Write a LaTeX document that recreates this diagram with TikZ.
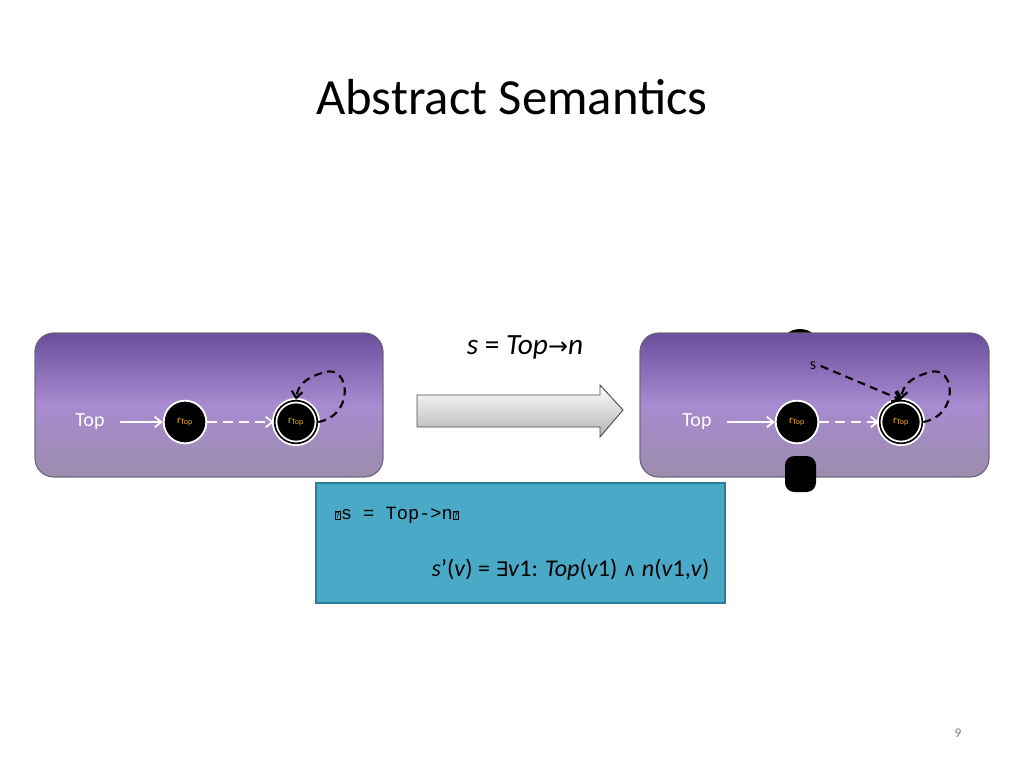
\documentclass[tikz,border=0pt]{standalone}
\usepackage{fontspec}
\setmainfont{Carlito}
\setmonofont{Liberation Mono}
\newfontfamily\djv{DejaVu Sans}
\usetikzlibrary{arrows.meta,shapes.geometric}
\definecolor{pdark}{HTML}{6A4E9C}
\definecolor{pmid}{HTML}{A88BD0}
\definecolor{pbot}{HTML}{9C8CAC}
\definecolor{bluebox}{HTML}{4AA9C6}
\definecolor{blueedge}{HTML}{2C7E98}
\definecolor{rtop}{HTML}{F0B020}
\tikzset{
  panel/.style={rounded corners=14pt, draw=pbot!70!black, line width=0.6pt},
  obj/.style={circle, fill=black, draw=white, line width=1.4pt, minimum size=32pt, inner sep=0pt, font=\fontsize{8}{9}\selectfont, text=rtop},
  sumobj/.style={obj, double=black, double distance=1.2pt},
  lbl/.style={text=white, font=\fontsize{15}{17}\selectfont},
  wedge/.style={white, line width=1.3pt, -{Straight Barb[length=5pt,width=8pt]}},
  bedge/.style={black, line width=1.6pt, dash pattern=on 6pt off 4pt, -{Straight Barb[length=5pt,width=8pt]}},
  qbox/.style={draw, inner sep=0.5pt, font=\djv\fontsize{6}{6}\selectfont}
}
\begin{document}
\begin{tikzpicture}[x=0.75pt,y=-0.75pt]
\useasboundingbox (0,0) rectangle (1024,768);
\fill[white] (0,0) rectangle (1024,768);
\node (title) at (512,97) {\fontsize{38}{44}\selectfont Abstract Semantics};
% left panel
\shade[panel, top color=pdark, bottom color=pbot, middle color=pmid] (35,333) rectangle (383,477);
\draw[panel] (35,333) rectangle (383,477);
\node[lbl] (lt) at (90,422) {Top};
\node[obj] (l1) at (185,422) {r\textsubscript{Top}};
\node[sumobj] (l2) at (296,422) {r\textsubscript{Top}};
\draw[wedge] (lt.east)++(8pt,0) coordinate (lts) -- (l1);
\draw[wedge, dashed, dash pattern=on 7pt off 5pt] (l1) -- (l2);
\draw[bedge] (l2.east) .. controls (355,415) and (350,365) .. (325,372) .. controls (305,378) and (298,385) .. (l2.north);
% right panel
\fill[black] (800,345) ellipse (14pt and 12pt);
\shade[panel, top color=pdark, bottom color=pbot, middle color=pmid] (640,333) rectangle (989,477);
\draw[panel] (640,333) rectangle (989,477);
\fill[black, rounded corners=7pt] (785,456) rectangle (816,492);
\node[lbl] (rt) at (697,422) {Top};
\node[obj] (r1) at (797,422) {r\textsubscript{Top}};
\node[sumobj] (r2) at (901,422) {r\textsubscript{Top}};
\node[text=black, font=\fontsize{12}{14}\selectfont] (s) at (813,366) {s};
\draw[wedge] (rt.east)++(8pt,0) -- (r1);
\draw[wedge, dashed, dash pattern=on 7pt off 5pt] (r1) -- (r2);
\draw[bedge] (r2.east) .. controls (960,415) and (955,365) .. (930,372) .. controls (910,378) and (903,385) .. (r2.north);
\draw[bedge] (s.east) -- (r2.north);
% big arrow
\shade[top color=white, bottom color=gray!60, draw=gray!60!black, line width=0.7pt]
  (417,395) -- (600,395) -- (600,385) -- (623,410) -- (600,437) -- (600,427) -- (417,427) -- cycle;
\node (op) at (525,347) {\fontsize{22}{26}\selectfont \textit{s} = \textit{Top}{\djv\fontsize{18}{20}\selectfont →}\textit{n}};
% blue box
\node[draw=blueedge, fill=bluebox, line width=1.2pt, minimum width=307pt, minimum height=90pt, inner sep=0pt] (code) at (520.5,543) {};
\node[anchor=west, font=\ttfamily\fontsize{14}{16}\selectfont] (c1) at (330,515) {\tikz\node[qbox]{?};s = Top->n\tikz\node[qbox]{?};};
\node[anchor=east, font=\fontsize{18}{22}\selectfont] (c2) at (714,570) {\textit{s}{\textquoteright}(\textit{v}) = {\djv\fontsize{15}{18}\selectfont ∃}\textit{v}1: \textit{Top}(\textit{v}1) {\djv\fontsize{14}{18}\selectfont ∧} \textit{n}(\textit{v}1,\textit{v})};
\node[text=gray, font=\fontsize{10}{12}\selectfont] (pg) at (958,733) {9};
\end{tikzpicture}
\end{document}
